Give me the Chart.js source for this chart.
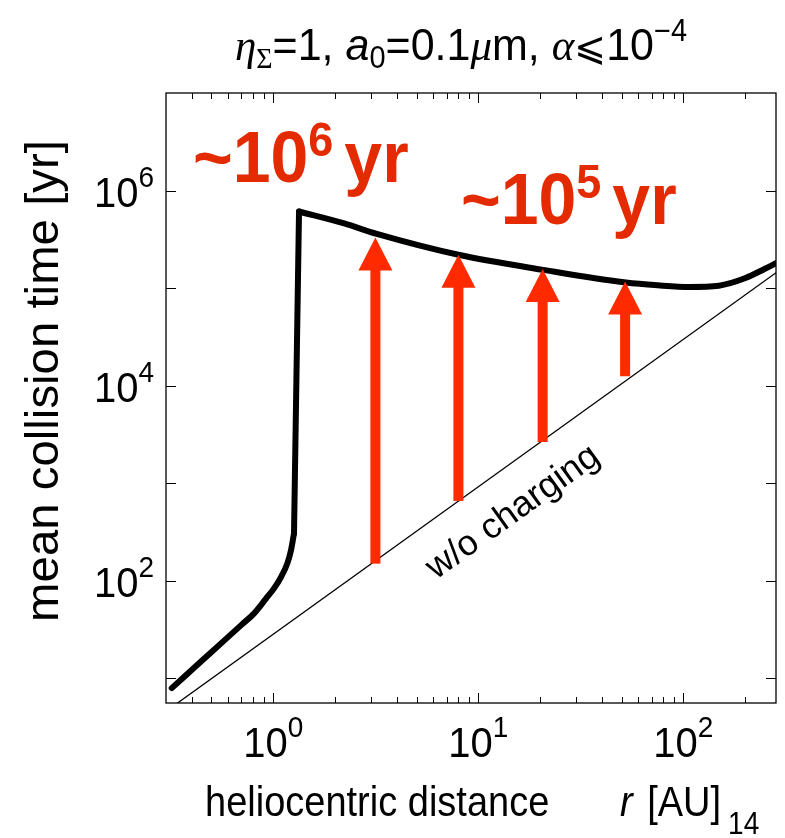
<!DOCTYPE html>
<html>
<head>
<meta charset="utf-8">
<script src="https://cdn.jsdelivr.net/npm/chart.js@4"></script>
<style>
  body { margin: 0; background: #fff; }
  canvas { display: block; }
</style>
</head>
<body>
<canvas id="chart" width="785" height="838"></canvas>
<script>
// charged case: thick curve, r [AU] vs mean collision time [yr]
var curveR = [0.32, 0.4485, 0.5585, 0.70, 0.809, 0.92, 1.011, 1.093, 1.173, 1.222, 1.263, 1.336, 2.22, 3.2, 8.0, 20.7, 52.6, 75, 107, 149, 201, 250, 283];
var curveT = [7.96, 15.15, 23.0, 35.4, 46.7, 65.4, 84.2, 110, 152, 208, 308, 6.1e5, 4.6e5, 3.6e5, 2.2e5, 1.54e5, 1.14e5, 1.07e5, 1.03e5, 1.06e5, 1.27e5, 1.58e5, 1.8e5];
var knee = 10; // bottom of the jump
var peak = 11; // top of the jump

// w/o charging (thin line)
var thinR = [0.3, 300];
var thinT = [4.6, 1.57e5];

// red arrows
var arrowR = [3.15, 8.0, 20.6, 52];
var arrowFrom = [150, 660, 2650, 12500];
var arrowTo = [3.3e5, 2.2e5, 1.57e5, 1.17e5];

// axes
var xMin = 0.318, xMax = 283;
var yMin = 5.6, yMax = 1e7;
var xMajor = [1, 10, 100];
var xLabels = ['0', '1', '2'];
var yMajor = [10, 100, 1000, 1e4, 1e5, 1e6];
var yLabelled = [100, 1e4, 1e6];
var yLabels = ['2', '4', '6'];

var SANS = '"Liberation Sans", Arial, Helvetica, sans-serif';
var SERIF = '"Liberation Serif", "Times New Roman", serif';
var RED_TXT = '#e42a00';
var RED_ARW = '#ff2a00';

function pts(xs, ys) {
  return xs.map(function(x, i){ return {x: x, y: ys[i]}; });
}

// draw a row of text pieces with their own fonts/offsets
function rich(ctx, parts, x, y, align, sy) {
  sy = sy || 1;
  var w = 0;
  parts.forEach(function(p){
    ctx.font = p.f;
    p.w = ctx.measureText(p.t).width;
    w += p.w + (p.gap || 0);
  });
  var cx = x;
  if (align === 'center') cx = x - w / 2;
  if (align === 'right') cx = x - w;
  ctx.save();
  ctx.translate(0, y);
  ctx.scale(1, sy);
  ctx.textAlign = 'left';
  ctx.textBaseline = 'alphabetic';
  parts.forEach(function(p){
    ctx.font = p.f;
    if (p.at) cx = p.at;
    ctx.fillText(p.t, cx, (p.dy || 0) / sy);
    cx += p.w + (p.gap || 0);
  });
  ctx.restore();
}

var decor = {
  id: 'decor',
  afterDatasetsDraw: function(chart) {
    var ctx = chart.ctx, xs = chart.scales.x, ys = chart.scales.y;
    ctx.save();
    ctx.fillStyle = RED_ARW;
    for (var i = 0; i < arrowR.length; i++) {
      var px = xs.getPixelForValue(arrowR[i]);
      var y0 = ys.getPixelForValue(arrowFrom[i]);
      var y1 = ys.getPixelForValue(arrowTo[i]);
      var headL = 33, headW = 17, shaft = 5;
      ctx.fillRect(px - shaft, y1 + headL - 1, shaft * 2, y0 - (y1 + headL - 1));
      ctx.beginPath();
      ctx.moveTo(px, y1);
      ctx.lineTo(px + headW, y1 + headL);
      ctx.lineTo(px - headW, y1 + headL);
      ctx.closePath();
      ctx.fill();
    }
    ctx.restore();
  },
  afterDraw: function(chart) {
    var ctx = chart.ctx, xs = chart.scales.x, ys = chart.scales.y, a = chart.chartArea;
    ctx.save();
    ctx.fillStyle = '#000';
    ctx.strokeStyle = '#000';

    // frame
    ctx.lineWidth = 1.3;
    ctx.strokeRect(a.left, a.top, a.right - a.left, a.bottom - a.top);

    // ticks, pointing inward
    ctx.lineWidth = 1;
    ctx.beginPath();
    for (var e = -1; e <= 2; e++) {
      for (var k = 1; k <= 9; k++) {
        var v = k * Math.pow(10, e);
        if (v < xMin || v > xMax) continue;
        var px = Math.round(xs.getPixelForValue(v)) + 0.5;
        var len = k === 1 ? 10 : 6;
        ctx.moveTo(px, a.bottom); ctx.lineTo(px, a.bottom - len);
        ctx.moveTo(px, a.top); ctx.lineTo(px, a.top + len);
      }
    }
    yMajor.forEach(function(v){
      var py = Math.round(ys.getPixelForValue(v)) + 0.5;
      ctx.moveTo(a.left, py); ctx.lineTo(a.left + 10, py);
      ctx.moveTo(a.right, py); ctx.lineTo(a.right - 10, py);
    });
    ctx.stroke();

    // tick labels
    var big = '40px ' + SANS, sup = '28px ' + SANS;
    xMajor.forEach(function(v, i){
      rich(ctx, [{t: '10', f: big}, {t: xLabels[i], f: sup, dy: -20}], xs.getPixelForValue(v), a.bottom + 54, 'center', 1.05);
    });
    yLabelled.forEach(function(v, i){
      rich(ctx, [{t: '10', f: big}, {t: yLabels[i], f: sup, dy: -20}], 154, ys.getPixelForValue(v) + 16, 'right', 1.05);
    });

    // axis titles
    rich(ctx, [
      {t: 'heliocentric distance', f: '38px ' + SANS},
      {t: 'r', f: 'italic 38px ' + SANS, at: 620, gap: 4},
      {t: ' [AU]', f: '38px ' + SANS, gap: 7},
      {t: '14', f: '28px ' + SANS, dy: 18}
    ], 205, 816, 'left', 1.1);

    ctx.save();
    ctx.translate(58, 381);
    ctx.rotate(-Math.PI / 2);
    ctx.scale(1.03, 1);
    ctx.textAlign = 'center';
    ctx.font = '46px ' + SANS;
    ctx.fillText('mean collision time [yr]', 0, 0);
    ctx.restore();

    // title
    var tf = '43px ' + SANS, ts = '29px ' + SANS;
    rich(ctx, [
      {t: '\u03b7', f: 'italic 43px ' + SERIF},
      {t: '\u03a3', f: '28px ' + SERIF, dy: 8},
      {t: '=1, ', f: tf},
      {t: 'a', f: 'italic 43px ' + SANS},
      {t: '0', f: ts, dy: 8},
      {t: '=0.1', f: tf},
      {t: '\u03bc', f: 'italic 43px ' + SERIF},
      {t: 'm, ', f: tf},
      {t: '\u03b1', f: 'italic 43px ' + SERIF},
      {t: '\u2a7d', f: '38px "DejaVu Sans", ' + SANS},
      {t: '10', f: tf},
      {t: '\u22124', f: ts, dy: -19}
    ], 461, 60, 'center', 1.05);

    // red annotations
    ctx.fillStyle = RED_TXT;
    var bf = 'bold 68px ' + SANS, bs = 'bold 45px ' + SANS;
    rich(ctx, [{t: '~10', f: bf}, {t: '6', f: bs, dy: -26, gap: 11}, {t: 'yr', f: bf}], 193, 182, 'left', 1.06);
    rich(ctx, [{t: '~10', f: bf}, {t: '5', f: bs, dy: -26, gap: 11}, {t: 'yr', f: bf}], 461, 224, 'left', 1.06);

    // label along the thin line
    var p0x = xs.getPixelForValue(thinR[0]), p0y = ys.getPixelForValue(thinT[0]);
    var p1x = xs.getPixelForValue(thinR[1]), p1y = ys.getPixelForValue(thinT[1]);
    var ang = Math.atan2(p1y - p0y, p1x - p0x);
    var lx = xs.getPixelForValue(11.3);
    var ly = p0y + (lx - p0x) * (p1y - p0y) / (p1x - p0x);
    ctx.fillStyle = '#000';
    ctx.translate(lx - Math.sin(ang) * 51, ly + Math.cos(ang) * 51);
    ctx.rotate(ang);
    ctx.textAlign = 'center';
    ctx.font = '36px ' + SANS;
    ctx.fillText('w/o charging', 0, 0);
    ctx.restore();
  }
};

var lineStyle = {
  showLine: true,
  borderColor: '#000',
  borderWidth: 6,
  pointRadius: 0,
  cubicInterpolationMode: 'monotone',
  borderJoinStyle: 'round',
  borderCapStyle: 'round'
};

function part(label, from, to) {
  return Object.assign({ label: label, data: pts(curveR.slice(from, to + 1), curveT.slice(from, to + 1)) }, lineStyle);
}

new Chart(document.getElementById('chart'), {
  type: 'scatter',
  data: {
    datasets: [
      part('charged (inner)', 0, knee),
      Object.assign(part('charged (jump)', knee, peak), { cubicInterpolationMode: 'default', borderJoinStyle: 'miter' }),
      part('charged (outer)', peak, curveR.length - 1),
      {
        label: 'w/o charging',
        data: pts(thinR, thinT),
        showLine: true,
        borderColor: '#000',
        borderWidth: 1.3,
        pointRadius: 0
      }
    ]
  },
  options: {
    responsive: false,
    animation: false,
    layout: { padding: { left: 166, top: 93, right: 9, bottom: 135 } },
    plugins: { legend: { display: false }, tooltip: { enabled: false } },
    scales: {
      x: {
        type: 'logarithmic', min: xMin, max: xMax,
        grid: { display: false, drawTicks: false }, border: { display: false },
        ticks: { display: false }
      },
      y: {
        type: 'logarithmic', min: yMin, max: yMax,
        grid: { display: false, drawTicks: false }, border: { display: false },
        ticks: { display: false }
      }
    }
  },
  plugins: [decor]
});
</script>
</body>
</html>
